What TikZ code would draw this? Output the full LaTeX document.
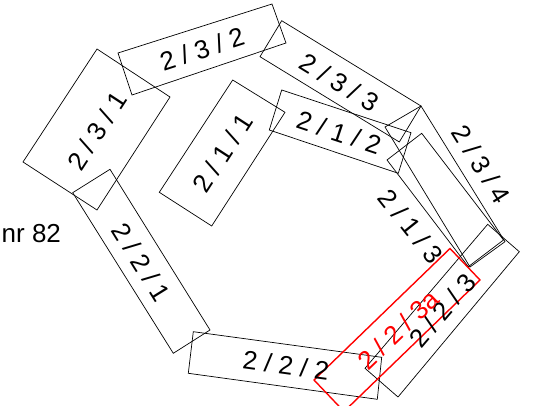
\documentclass[tikz,border=0pt]{standalone}
\usepackage{fontspec}
\setmainfont{Liberation Sans}
\begin{document}
\begin{tikzpicture}[x=1pt,y=-1pt,
  box/.style={draw=black, line width=0.7pt, line join=miter},
  redbox/.style={draw=red, line width=1.4pt},
  lbl/.style={font=\fontsize{26}{30}\selectfont, inner sep=0pt, text=black},
  redlbl/.style={font=\fontsize{26}{30}\selectfont, inner sep=0pt, text=red}]
\useasboundingbox (0,0) rectangle (558,406);
\clip (0,0) rectangle (558,406);
\fill[white] (0,0) rectangle (558,406);
% parcel boxes
\draw[box] (97,49) -- (170,97) -- (97,210) -- (23,162) -- cycle;          % 2/3/1
\draw[box] (118,53) -- (272,4) -- (286,43) -- (132,95) -- cycle;          % 2/3/2
\draw[box] (281.7,20.7) -- (421,106) -- (399.3,142) -- (260,56.7) -- cycle; % 2/3/3
\draw[box] (421,106) -- (505,241.7) -- (470,267) -- (385,127) -- cycle;   % 2/3/4
\draw[box] (232.7,80) -- (285,112.3) -- (211.7,226) -- (159.3,192.3) -- cycle; % 2/1/1
\draw[box] (281.7,90) -- (411,132.7) -- (398.3,173.3) -- (269.3,130) -- cycle; % 2/1/2
\draw[box] (421.7,133.3) -- (503.5,240) -- (468.3,266.7) -- (387,160) -- cycle; % 2/1/3
\draw[box] (72.7,192.7) -- (110,169.3) -- (210,330) -- (173.3,353.3) -- cycle; % 2/2/1
\draw[box] (193.3,331.7) -- (381.7,357.3) -- (377.3,399.3) -- (188.3,373.3) -- cycle; % 2/2/2
\draw[box] (487.7,224.3) -- (519.3,251.7) -- (398,397) -- (365,368.3) -- cycle; % 2/2/3
\draw[redbox] (450,248.5) -- (480,280) -- (344,411.5) -- (314,380) -- cycle; % 2/2/3a
% labels
\node[lbl, rotate=56.8] (t231) at (97,131) {2 / 3 / 1};
\node[lbl, rotate=17.9] (t232) at (202,49) {2 / 3 / 2};
\node[lbl, rotate=-31.5] (t233) at (339.5,82.5) {2 / 3 / 3};
\node[lbl, rotate=-58] (t234) at (481.5,164.5) {2 / 3 / 4};
\node[lbl, rotate=57] (t211) at (222.5,153) {2 / 1 / 1};
\node[lbl, rotate=-18.3] (t212) at (339,132.5) {2 / 1 / 2};
\node[lbl, rotate=-51.5] (t213) at (410.8,226.5) {2 / 1 / 3};
\node[lbl, rotate=-58.1] (t221) at (141.5,262.5) {2 / 2 / 1};
\node[lbl, rotate=-7.7] (t222) at (286,365) {2 / 2 / 2};
\node[lbl, rotate=49.5] (t223) at (442.5,310.5) {2 / 2 / 3};
\node[redlbl, rotate=44] (t223a) at (398,330) {2 / 2 / 3a};
\node[lbl, anchor=base west] (nr) at (1.5,242.3) {nr 82};
\end{tikzpicture}
\end{document}
